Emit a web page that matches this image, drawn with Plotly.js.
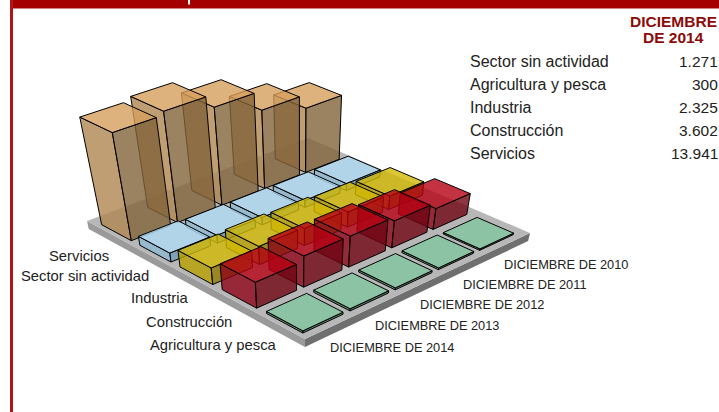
<!DOCTYPE html>
<html>
<head>
<meta charset="utf-8">
<script src="https://cdn.plot.ly/plotly-3.0.1.min.js"></script>
<style>html,body{margin:0;padding:0;background:#fff;overflow:hidden}#chart{width:719px;height:412px}</style>
</head>
<body>
<div id="chart"></div>
<script>
// ---- data (front row first, years front to back) ----
var sectors = ["Agricultura y pesca", "Construcción", "Industria", "Sector sin actividad", "Servicios"];
var years = ["DICIEMBRE DE 2014", "DICIEMBRE DE 2013", "DICIEMBRE DE 2012", "DICIEMBRE DE 2011", "DICIEMBRE DE 2010"];
var agricultura = [300, 310, 280, 250, 200];
var construccion = [3602, 4313, 4288, 3765, 2930];
var industria = [2325, 2550, 2400, 2150, 1900];
var sinActividad = [1271, 1100, 1050, 1000, 1000];
var servicios = [13941, 14375, 12865, 10510, 8770];

var tableTitle = ["DICIEMBRE", "DE 2014"];
var tableSectors = ["Sector sin actividad", "Agricultura y pesca", "Industria", "Construcción", "Servicios"];
var tableValues = ["1.271", "300", "2.325", "3.602", "13.941"];

// ---- styling ----
var faceColours = [
  {top: "rgba(129,198,160,0.8)", left: "rgba(80,135,105,0.8)", right: "rgba(70,115,90,0.8)"},
  {top: "rgba(180,0,17,0.8)", left: "rgba(142,4,23,0.8)", right: "rgba(110,4,17,0.8)"},
  {top: "rgba(210,185,4,0.8)", left: "rgba(185,160,0,0.8)", right: "rgba(142,123,0,0.8)"},
  {top: "rgba(176,219,244,0.8)", left: "rgba(142,185,210,0.8)", right: "rgba(110,155,180,0.8)"},
  {top: "rgba(214,159,92,0.8)", left: "rgba(175,134,80,0.8)", right: "rgba(130,99,57,0.8)"}
];
var sectorRightEdge = [278, 233, 190, 150, 110];
var sectorLabelY = [345, 322, 297.5, 275.5, 255.5];
var yearLeftEdge = [328.5, 373.5, 418.5, 461.5, 502.5];
var yearLabelY = [347.5, 325.5, 304.5, 284.5, 264.5];

// ---- projection: floor homography plus a vertical vanishing point ----
var H = {a:-205.9, b:288.9, c:305, d:-87.2, e:-77.9, f:339, g:0.1392, h:0.1205};
var VP = [300, 1200];
var heightScale = 0.1127 / 13941;
function project(u, v, val) {
  var t = val * heightScale;
  var w = H.g*u + H.h*v + 1 - t;
  return [(H.a*u + H.b*v + H.c - t*VP[0]) / w, (H.d*u + H.e*v + H.f - t*VP[1]) / w];
}
function face(pts, fill, lineColour) {
  var xy = pts.map(function(p){ return project(p[0], p[1], p[2]); });
  xy.push(xy[0]);
  return {type:"scatter", mode:"lines", hoverinfo:"skip", fill:"toself", fillcolor:fill,
    x: xy.map(function(p){return p[0];}), y: xy.map(function(p){return p[1];}),
    line:{color: lineColour || "#000", width:1}};
}
function box(u0,u1,v0,v1,lo,hi,c,lineColour){
  return [
    face([[u0,v0,lo],[u1,v0,lo],[u1,v0,hi],[u0,v0,hi]], c.left, lineColour),
    face([[u0,v0,lo],[u0,v1,lo],[u0,v1,hi],[u0,v0,hi]], c.right, lineColour),
    face([[u0,v0,hi],[u1,v0,hi],[u1,v1,hi],[u0,v1,hi]], c.top, lineColour)
  ];
}
var traces = [];
// floor slab
traces = traces.concat(box(0,1,0,1,-1160,0,{top:"#b7b7b7", left:"#9a9a9a", right:"#6f6f6f"},"rgba(0,0,0,0)"));
// bars, back to front
var rows = [agricultura, construccion, industria, sinActividad, servicios];
var uStart = 0.028, vStart = 0.019, step = 0.1925, uSize = 0.15, vSize = 0.163;
for (var i = rows.length-1; i >= 0; i--) {
  for (var j = years.length-1; j >= 0; j--) {
    var u0 = uStart + i*step, v0 = vStart + j*step;
    traces = traces.concat(box(u0,u0+uSize,v0,v0+vSize,0,rows[i][j],faceColours[i]));
  }
}
// ---- text ----
var ann = [];
function label(x,y,text,anchor,size,colour,bold){
  ann.push({x:x,y:y,xref:"x",yref:"y",text:bold?"<b>"+text+"</b>":text,showarrow:false,xanchor:anchor,yanchor:"middle",
    align:"center",borderpad:0,font:{family:"Liberation Sans, Arial, sans-serif",size:size,color:colour||"#222"}});
}
sectors.forEach(function(s,i){ label(sectorRightEdge[i],sectorLabelY[i],s,"right",14.8); });
years.forEach(function(s,i){ label(yearLeftEdge[i],yearLabelY[i],s,"left",12.8); });
var tableY = [61, 84, 107, 130, 153];
tableSectors.forEach(function(s,i){
  label(468.5,tableY[i],s,"left",16);
  label(718.5,tableY[i],tableValues[i],"right",15.5);
});
label(673.5,21,tableTitle[0],"center",15.5,"#8c0a0a",true);
label(673,37,tableTitle[1],"center",15.5,"#8c0a0a",true);

var layout = {
  width:719, height:412, margin:{l:0,r:0,t:0,b:0}, showlegend:false,
  paper_bgcolor:"#fff", plot_bgcolor:"#fff",
  xaxis:{range:[0,719], visible:false, fixedrange:true},
  yaxis:{range:[412,0], visible:false, fixedrange:true},
  annotations:ann,
  shapes:[
    {type:"rect",xref:"x",yref:"y",x0:10,x1:719,y0:0,y1:8.5,fillcolor:"#a50000",line:{width:0}},
    {type:"rect",xref:"x",yref:"y",x0:10,x1:13,y0:0,y1:412,fillcolor:"#b01414",line:{width:0}},
    {type:"rect",xref:"x",yref:"y",x0:188,x1:190,y0:0,y1:4.5,fillcolor:"#fff",line:{width:0}}
  ]
};
Plotly.newPlot("chart", traces, layout, {staticPlot:true, displayModeBar:false});
</script>
</body>
</html>
